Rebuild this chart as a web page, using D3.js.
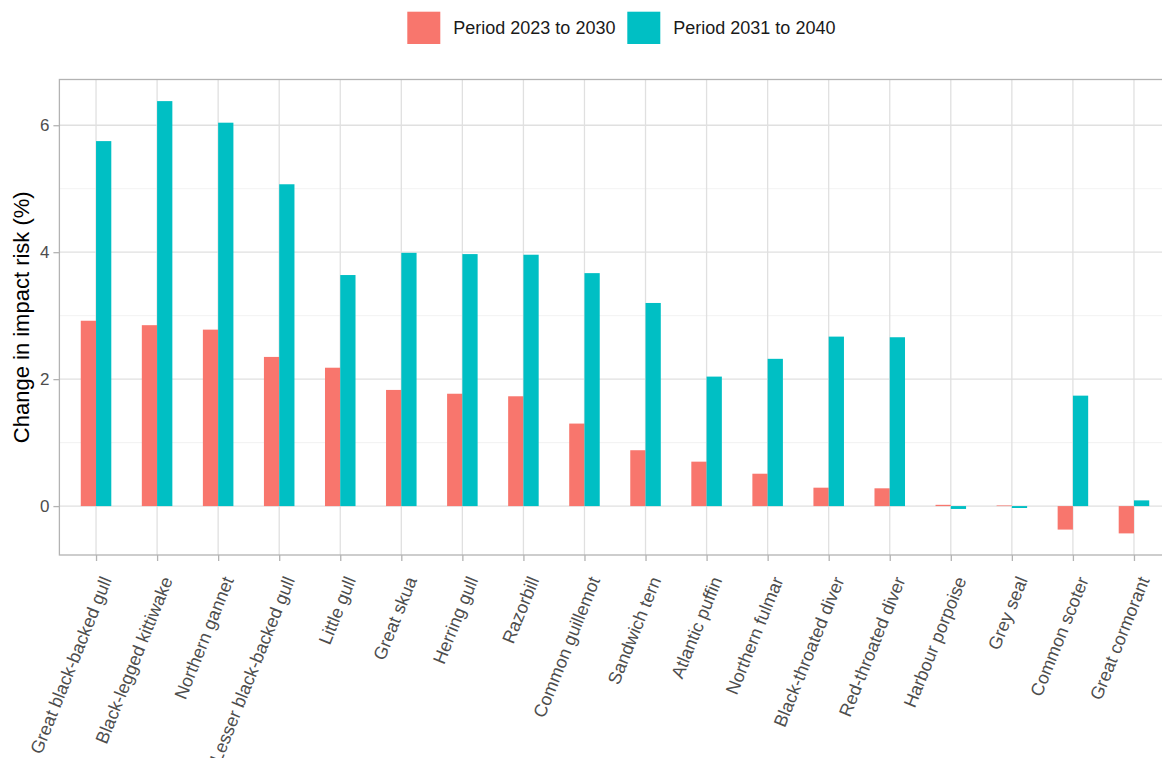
<!DOCTYPE html>
<html>
<head>
<meta charset="utf-8">
<script src="https://cdn.jsdelivr.net/npm/d3@7"></script>
<style>
  html, body { margin: 0; padding: 0; background: #fff; }
  svg { display: block; font-family: "Liberation Sans", Arial, sans-serif; }
</style>
</head>
<body>
<svg id="chart" width="1162" height="758"></svg>
<script>
const categories = ["Great black-backed gull", "Black-legged kittiwake", "Northern gannet",
  "Lesser black-backed gull", "Little gull", "Great skua", "Herring gull", "Razorbill",
  "Common guillemot", "Sandwich tern", "Atlantic puffin", "Northern fulmar",
  "Black-throated diver", "Red-throated diver", "Harbour porpoise", "Grey seal",
  "Common scoter", "Great cormorant"];
const period1 = [2.92, 2.85, 2.78, 2.35, 2.18, 1.83, 1.77, 1.73, 1.30, 0.88, 0.70, 0.51, 0.29, 0.28, 0.02, 0.01, -0.37, -0.43];
const period2 = [5.75, 6.38, 6.04, 5.07, 3.64, 3.99, 3.97, 3.96, 3.67, 3.20, 2.04, 2.32, 2.67, 2.66, -0.045, -0.03, 1.74, 0.09];
const seriesNames = ["Period 2023 to 2030", "Period 2031 to 2040"];
const seriesColors = ["#F8766D", "#00BFC4"];
const yTicks = [0, 2, 4, 6];
const yMinor = [1, 3, 5];

(function () {
const svg = d3.select("#chart");
const pLeft = 59.4, pRight = 1170.6, pTop = 79.5, pBottom = 555;

const x = d3.scalePoint().domain(categories).range([pLeft, pRight]).padding(0.6);
const step = x.step();
const allVals = period1.concat(period2);
const vmin = d3.min(allVals), vmax = d3.max(allVals);
const pad = (vmax - vmin) * 0.05;
const y = d3.scaleLinear().domain([vmin - pad, vmax + pad]).range([pBottom, pTop]);

const grid = svg.append("g");
grid.selectAll("line.minor").data(yMinor).join("line")
  .attr("x1", pLeft).attr("x2", pRight)
  .attr("y1", d => y(d)).attr("y2", d => y(d))
  .attr("stroke", "#ececec").attr("stroke-width", 0.7);
grid.selectAll("line.majory").data(yTicks).join("line")
  .attr("x1", pLeft).attr("x2", pRight)
  .attr("y1", d => y(d)).attr("y2", d => y(d))
  .attr("stroke", "#e0e0e0").attr("stroke-width", 1.3);
grid.selectAll("line.majorx").data(categories).join("line")
  .attr("x1", d => x(d)).attr("x2", d => x(d))
  .attr("y1", pTop).attr("y2", pBottom)
  .attr("stroke", "#e0e0e0").attr("stroke-width", 1.3);

const series = [period1, period2];
const bw = step / 4;
series.forEach((vals, si) => {
  svg.append("g").selectAll("rect").data(categories).join("rect")
    .attr("x", d => x(d) + (si === 0 ? -bw : 0))
    .attr("width", bw)
    .attr("y", (d, i) => Math.min(y(vals[i]), y(0)))
    .attr("height", (d, i) => Math.abs(y(vals[i]) - y(0)))
    .attr("fill", seriesColors[si]);
});

svg.append("rect").attr("x", pLeft).attr("y", pTop)
  .attr("width", pRight - pLeft).attr("height", pBottom - pTop)
  .attr("fill", "none").attr("stroke", "#b3b3b3").attr("stroke-width", 1.3);

const yAxis = d3.axisLeft(y).tickValues(yTicks).tickSize(6).tickPadding(4).tickFormat(d3.format("d"));
const gy = svg.append("g").attr("transform", `translate(${pLeft},0)`).call(yAxis);
gy.select(".domain").remove();
gy.selectAll(".tick line").attr("stroke", "#b3b3b3").attr("stroke-width", 1.3);
gy.selectAll(".tick text").attr("fill", "#4d4d4d").attr("font-size", 17)
  .attr("font-family", "Liberation Sans, Arial, sans-serif");

const xAxis = d3.axisBottom(x).tickSize(6).tickFormat("");
const gx = svg.append("g").attr("transform", `translate(0,${pBottom})`).call(xAxis);
gx.select(".domain").remove();
gx.selectAll(".tick line").attr("stroke", "#b3b3b3").attr("stroke-width", 1.3);

svg.append("g").selectAll("text").data(categories).join("text")
  .attr("transform", d => `translate(${x(d) + 4},${575}) rotate(-68)`)
  .attr("text-anchor", "end")
  .attr("dy", "0.72em")
  .attr("fill", "#4d4d4d")
  .attr("font-size", 18)
  .text(d => d);

svg.append("text")
  .attr("transform", `translate(29,${(pTop + pBottom) / 2}) rotate(-90)`)
  .attr("text-anchor", "middle")
  .attr("font-size", 22)
  .attr("fill", "#000")
  .text("Change in impact risk (%)");

const legendX = [407.3, 627.3];
seriesNames.forEach((name, i) => {
  svg.append("rect").attr("x", legendX[i]).attr("y", 11.7).attr("width", 33).attr("height", 32.3)
    .attr("fill", seriesColors[i]);
  svg.append("text").attr("x", legendX[i] + 46).attr("y", 28).attr("dy", "0.35em")
    .attr("font-size", 18).attr("fill", "#1a1a1a").text(name);
});
})();
</script>
</body>
</html>
